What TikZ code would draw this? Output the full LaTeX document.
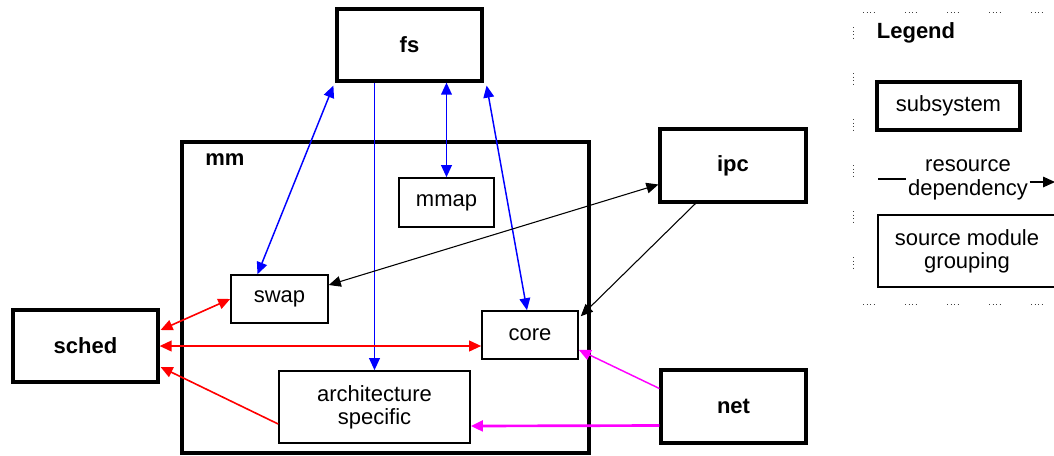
\documentclass[tikz,border=0pt]{standalone}
\usepackage{fontspec}
\setmainfont{Liberation Sans}
\usetikzlibrary{arrows.meta,calc}
\newcommand\dfont{\fontsize{16.5}{17.5}\selectfont}
\definecolor{pureblue}{RGB}{0,0,255}
\definecolor{purered}{RGB}{255,0,0}
\definecolor{puremag}{RGB}{255,0,255}
\begin{document}
\begin{tikzpicture}[x=0.75pt,y=-0.75pt,
  >={Triangle[length=9pt,width=8pt]},
  box/.style={draw, inner sep=0pt, font=\dfont, align=center},
  subsys/.style={box, line width=2.4pt, font=\dfont\bfseries},
  module/.style={box, line width=1.2pt},
  bluedep/.style={draw=pureblue, line width=1.1pt},
  reddep/.style={draw=purered, line width=1.2pt},
  blackdep/.style={draw=black, line width=0.8pt},
  magdep/.style={draw=puremag, line width=1.1pt},
  legdots/.style={draw=black!75, line width=0.75pt,
    dash pattern=on 0.75pt off 1.875pt on 0.75pt off 1.875pt on 0.75pt off 1.875pt on 0.75pt off 22.875pt},
  legdotsv/.style={draw=black!75, line width=0.75pt,
    dash pattern=on 0.75pt off 1.875pt on 0.75pt off 1.875pt on 0.75pt off 1.875pt on 0.75pt off 25.875pt},
  plain/.style={inner sep=1pt, font=\dfont, align=center}]
\useasboundingbox (0,0) rectangle (1054,455);
\clip (0,0) rectangle (1054,455);

% memory manager grouping
\node[module, line width=2.4pt, minimum width=305.25pt, minimum height=233.25pt] (mm) at (385.5,297.5) {};
\node[plain, font=\dfont\bfseries] (mmlabel) at (225,160) {mm};

% subsystems
\node[subsys, minimum width=108.75pt, minimum height=54pt] (fs) at (409.5,45) {fs};
\node[subsys, minimum width=108.75pt, minimum height=54pt] (sched) at (85.5,346) {sched};
\node[subsys, minimum width=109.5pt, minimum height=54.75pt] (ipc) at (733,165.5) {ipc};
\node[subsys, minimum width=108.75pt, minimum height=54.75pt] (net) at (733.5,406.5) {net};

% modules inside mm
\node[module, minimum width=71.25pt, minimum height=36.75pt] (mmap) at (446.5,202.5) {mmap};
\node[module, minimum width=72.75pt, minimum height=36pt] (swap) at (279.5,299) {swap};
\node[module, minimum width=72pt, minimum height=36pt] (core) at (530,335) {core};
\node[module, minimum width=143.25pt, minimum height=54pt] (arch) at (374.5,407) {architecture\\specific};

% dependencies on fs
\draw[bluedep,<->] ($(fs.south west)+(-2,3)$) -- ($(swap.north)+(-22,0)$);
\draw[bluedep,->] (fs.south -| arch.north) -- (arch.north);
\draw[bluedep,<->] (fs.south -| mmap.north) -- (mmap.north);
\draw[bluedep,<->] ($(fs.south east)+(3,3)$) -- ($(core.north)+(-3,0)$);

% dependencies on ipc
\draw[blackdep,<->] ($(ipc.west)+(0,19)$) -- ($(swap.east)+(0,-14)$);
\draw[blackdep,->] ($(ipc.south west)+(37,0)$) -- ($(core.north east)+(2,6)$);

% dependencies on sched
\draw[reddep,<->] ($(sched.east)+(1,-16)$) -- (swap.west);
\draw[reddep,line width=1.4pt,<->] (sched.east) -- (sched.east -| core.west);
\draw[reddep,->] ($(arch.west)+(0,17)$) -- ($(sched.east)+(1,21)$);

% dependencies on net
\draw[magdep,->] ($(net.west)+(0,-18)$) -- ($(core.south east)+(0,-10)$);
\draw[magdep,line width=2pt,->] ($(net.west)+(0,19)$) -- ($(arch.east)+(0,19)$);

% legend frame
\draw[legdots] (863,12) -- (1060,12);
\draw[legdots] (863,304) -- (1060,304);
\draw[legdotsv] (853,27) -- (853,290);

% legend entries
\node[plain, font=\dfont\bfseries] (legtitle) at (916,33) {Legend};
\node[subsys, font=\dfont, minimum width=107.25pt, minimum height=36pt] (legsub) at (948.5,106) {subsystem};
\node[plain] (resdep) at (968,180) {resource\\dependency};
\coordinate (rdl) at (878,179);
\coordinate (rdr) at (1055,182);
\draw[line width=0.8pt] (rdl) -- (resdep.west |- rdl);
\draw[line width=0.8pt,->] (resdep.east |- rdr) -- (rdr);
\node[module, minimum width=133.5pt, minimum height=54pt] (leggroup) at (967,251) {source module\\grouping};
\end{tikzpicture}
\end{document}
